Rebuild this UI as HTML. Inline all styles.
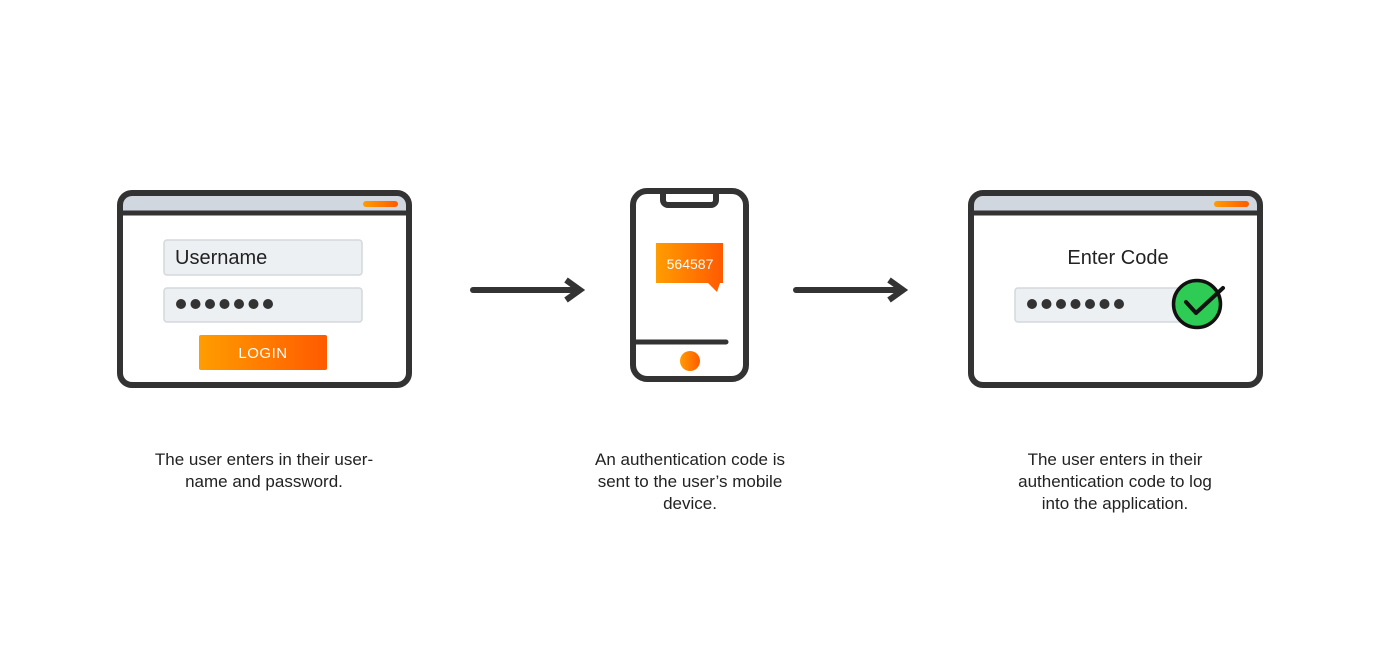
<!DOCTYPE html>
<html><head><meta charset="utf-8"><style>
html,body{margin:0;padding:0;background:#fff;width:1380px;height:671px;overflow:hidden}
svg{display:block}
</style></head><body>
<svg width="1380" height="671" viewBox="0 0 1380 671" xmlns="http://www.w3.org/2000/svg">
<defs>
<linearGradient id="og" x1="0" x2="1" y1="0" y2="0"><stop offset="0" stop-color="#ff9d00"/><stop offset="1" stop-color="#ff5a00"/></linearGradient>
</defs>
<g font-family="Liberation Sans, sans-serif">
<!-- Window 1 -->
<path d="M120,212 V205 a12,12 0 0 1 12,-12 H397 a12,12 0 0 1 12,12 V212 Z" fill="#d0d7de"/>
<rect x="120" y="193" width="289" height="192" rx="12" fill="none" stroke="#333" stroke-width="6"/>
<line x1="120" y1="213" x2="409" y2="213" stroke="#333" stroke-width="5"/>
<rect x="363" y="201" width="35" height="6" rx="3" fill="url(#og)"/>
<rect x="164" y="240" width="198" height="35" rx="3" fill="#edf0f3" stroke="#d3d8dd" stroke-width="1.5"/>
<text x="175" y="264" font-size="20" fill="#222">Username</text>
<rect x="164" y="288" width="198" height="34" rx="3" fill="#edf0f3" stroke="#d3d8dd" stroke-width="1.5"/>
<g fill="#333"><circle cx="181" cy="304" r="5"/><circle cx="195.5" cy="304" r="5"/><circle cx="210" cy="304" r="5"/><circle cx="224.5" cy="304" r="5"/><circle cx="239" cy="304" r="5"/><circle cx="253.5" cy="304" r="5"/><circle cx="268" cy="304" r="5"/></g>
<rect x="199" y="335" width="128" height="35" rx="2" fill="url(#og)"/>
<text x="263" y="358" font-size="15" fill="#fff" text-anchor="middle" letter-spacing="0.5">LOGIN</text>
<!-- Arrows -->
<line x1="473" y1="290" x2="575" y2="290" stroke="#333" stroke-width="6" stroke-linecap="round"/>
<path d="M566,280 L580,290 L566,300" fill="none" stroke="#333" stroke-width="6" stroke-linejoin="miter"/>
<line x1="796" y1="290" x2="898" y2="290" stroke="#333" stroke-width="6" stroke-linecap="round"/>
<path d="M889,280 L903,290 L889,300" fill="none" stroke="#333" stroke-width="6"/>
<!-- Phone -->
<rect x="633" y="191" width="113" height="188" rx="14" fill="none" stroke="#333" stroke-width="6"/>
<path d="M663,192 V200 a5,5 0 0 0 5,5 H711 a5,5 0 0 0 5,-5 V192" fill="none" stroke="#333" stroke-width="6"/>
<line x1="636" y1="342" x2="726" y2="342" stroke="#333" stroke-width="5" stroke-linecap="round"/>
<circle cx="690" cy="361" r="10" fill="url(#og)"/>
<path d="M656,243 H723 V283 H720 L717,292 L708,283 H656 Z" fill="url(#og)"/>
<text x="690" y="269" font-size="14" fill="#fff" text-anchor="middle">564587</text>
<!-- Window 3 -->
<path d="M971,212 V205 a12,12 0 0 1 12,-12 H1248 a12,12 0 0 1 12,12 V212 Z" fill="#d0d7de"/>
<rect x="971" y="193" width="289" height="192" rx="12" fill="none" stroke="#333" stroke-width="6"/>
<line x1="971" y1="213" x2="1260" y2="213" stroke="#333" stroke-width="5"/>
<rect x="1214" y="201" width="35" height="6" rx="3" fill="url(#og)"/>
<text x="1118" y="264" font-size="20" fill="#222" text-anchor="middle">Enter Code</text>
<rect x="1015" y="288" width="180" height="34" rx="3" fill="#edf0f3" stroke="#d3d8dd" stroke-width="1.5"/>
<g fill="#333"><circle cx="1032" cy="304" r="5"/><circle cx="1046.5" cy="304" r="5"/><circle cx="1061" cy="304" r="5"/><circle cx="1075.5" cy="304" r="5"/><circle cx="1090" cy="304" r="5"/><circle cx="1104.5" cy="304" r="5"/><circle cx="1119" cy="304" r="5"/></g>
<circle cx="1197" cy="304" r="23.5" fill="#2ecc55" stroke="#111" stroke-width="3.5"/>
<path d="M1186,302 L1196,313 L1223,288" fill="none" stroke="#111" stroke-width="4" stroke-linecap="round" stroke-linejoin="round"/>
<!-- Captions -->
<g font-size="17" fill="#222" text-anchor="middle">
<text x="264" y="465">The user enters in their user-</text>
<text x="264" y="487">name and password.</text>
<text x="690" y="465">An authentication code is</text>
<text x="690" y="487">sent to the user’s mobile</text>
<text x="690" y="509">device.</text>
<text x="1115" y="465">The user enters in their</text>
<text x="1115" y="487">authentication code to log</text>
<text x="1115" y="509">into the application.</text>
</g>
</g>
</svg>
</body></html>
